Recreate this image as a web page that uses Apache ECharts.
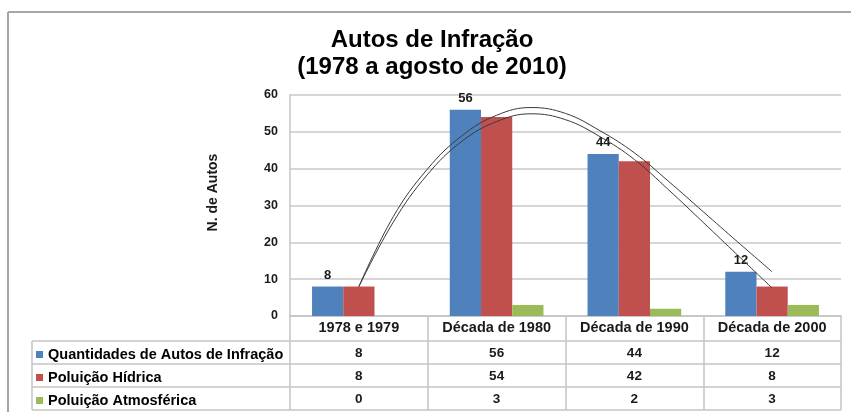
<!DOCTYPE html>
<html>
<head>
<meta charset="utf-8">
<script src="https://cdn.jsdelivr.net/npm/echarts@6/dist/echarts.min.js"></script>
<style>
html,body{margin:0;padding:0;background:#fff;}
#c{width:851px;height:412px;}
</style>
</head>
<body>
<div id="c"></div>
<script>
// ---- data ----
const categories = ['1978 e 1979', 'Década de 1980', 'Década de 1990', 'Década de 2000'];
const seriesNames = ['Quantidades de Autos de Infração', 'Poluição Hídrica', 'Poluição Atmosférica'];
const autos = [8, 56, 44, 12];
const hidrica = [8, 54, 42, 8];
const atmosferica = [0, 3, 2, 3];
// hand-drawn curves over the bars at category positions (0 = first category)
const curveX = [0, 0.25, 0.5, 0.75, 1, 1.25, 1.5, 1.75, 2, 2.25, 2.5, 2.75, 3];
const curveUpper = [8, 27, 40, 49, 54.5, 56.6, 55, 50.3, 44.3, 36.5, 28.3, 20.1, 12];
const curveLower = [8, 25.5, 38.5, 47.5, 52.8, 54.9, 53.3, 48.7, 42.5, 34.2, 25.4, 16.5, 7.6];
const yMin = 0, yMax = 60, yStep = 10;

// ---- layout / style ----
const FONT = 'Liberation Sans, Arial, sans-serif';
const W = 851, H = 412;
const G = { left: 290, right: 10, top: 95, bottom: 96 };
const ROW = 23;
const GRID_BOTTOM_Y = H - G.bottom;
const TABLE_LEFT = 32;
const TABLE_RIGHT = W - G.right;
const LINE_C = '#c4c4c4';
const TXT = '#1a1a1a';
const rows = [autos, hidrica, atmosferica];
const colors = ['#4F81BD', '#C0504D', '#9BBB59'];

const chart = echarts.init(document.getElementById('c'), null, { renderer: 'canvas' });

const xAxes = [{
  type: 'category',
  data: categories,
  position: 'bottom',
  axisLine: { show: true, onZero: false, lineStyle: { color: LINE_C, width: 1.5 } },
  axisTick: { show: true, interval: 0, length: ROW * 4 + 2, lineStyle: { color: LINE_C, width: 1.5 } },
  axisLabel: { interval: 0, margin: 4, fontFamily: FONT, fontWeight: 'bold', fontSize: 14.5, color: TXT }
}];
rows.forEach((r, k) => {
  xAxes.push({
    type: 'category',
    data: categories,
    position: 'bottom',
    offset: ROW * (k + 1) + 2,
    axisLine: { show: false, onZero: false },
    axisTick: { show: false },
    axisLabel: {
      interval: 0, margin: 5, fontFamily: FONT, fontWeight: 'bold', fontSize: 13.5, color: TXT,
      formatter: (v, i) => String(r[i])
    }
  });
});
// hidden value axis aligned with the category centres, for the drawn curves
xAxes.push({ type: 'value', min: -0.5, max: categories.length - 0.5, show: false, axisLine: { onZero: false } });
const curveAxisIndex = xAxes.length - 1;

const graphics = [
  // outer frame
  { type: 'line', shape: { x1: 8, y1: 12, x2: W, y2: 12 }, style: { stroke: '#a6a6a6', lineWidth: 2 } },
  { type: 'line', shape: { x1: 8, y1: 12, x2: 8, y2: H }, style: { stroke: '#a6a6a6', lineWidth: 2 } },
  // table left border
  { type: 'line', shape: { x1: TABLE_LEFT, y1: GRID_BOTTOM_Y + ROW + 2, x2: TABLE_LEFT, y2: GRID_BOTTOM_Y + ROW * 4 + 2 }, style: { stroke: LINE_C, lineWidth: 1.5 } }
];
for (let k = 1; k <= 4; k++) {
  const y = GRID_BOTTOM_Y + ROW * k + 2;
  graphics.push({ type: 'line', shape: { x1: TABLE_LEFT, y1: y, x2: TABLE_RIGHT, y2: y }, style: { stroke: LINE_C, lineWidth: 1.5 } });
}

const barLabel = { show: true, position: 'top', distance: 5, fontFamily: FONT, fontWeight: 'bold', fontSize: 13, color: TXT };
const pairs = (xs, ys) => xs.map((x, i) => [x, ys[i]]);

const option = {
  backgroundColor: '#fff',
  animation: false,
  title: {
    text: 'Autos de Infração\n(1978 a agosto de 2010)',
    left: 427, top: 22, textAlign: 'center',
    textStyle: { fontFamily: FONT, fontWeight: 'bold', fontSize: 24, lineHeight: 27, color: '#000' }
  },
  legend: {
    data: seriesNames,
    orient: 'vertical',
    left: TABLE_LEFT - 1, top: GRID_BOTTOM_Y + ROW + 3,
    height: 120,
    itemWidth: 7, itemHeight: 7, itemGap: 8, icon: 'rect',
    selectedMode: false,
    textStyle: { fontFamily: FONT, fontWeight: 'bold', fontSize: 14.5, color: '#000', lineHeight: 15 }
  },
  grid: { left: G.left, right: G.right, top: G.top, bottom: G.bottom, containLabel: false },
  xAxis: xAxes,
  yAxis: {
    type: 'value', min: yMin, max: yMax, interval: yStep,
    name: 'N. de Autos', nameLocation: 'middle', nameRotate: 90, nameGap: 70,
    nameTextStyle: { fontFamily: FONT, fontWeight: 'bold', fontSize: 14, color: TXT, padding: [0, 0, 0, 26] },
    axisLine: { show: true, onZero: false, lineStyle: { color: LINE_C, width: 1.5 } },
    axisTick: { show: false },
    axisLabel: { margin: 12, fontFamily: FONT, fontWeight: 'bold', fontSize: 12.5, color: TXT },
    splitLine: { show: true, lineStyle: { color: '#d6d6d6', width: 2 } }
  },
  series: [
    { name: seriesNames[0], type: 'bar', data: autos, itemStyle: { color: colors[0] }, barGap: '0%', barCategoryGap: '32%', label: barLabel },
    { name: seriesNames[1], type: 'bar', data: hidrica, itemStyle: { color: colors[1] } },
    { name: seriesNames[2], type: 'bar', data: atmosferica, itemStyle: { color: colors[2] } },
    { name: 'curva1', type: 'line', xAxisIndex: curveAxisIndex, data: pairs(curveX, curveUpper), smooth: 0.4, symbol: 'none', z: 5, lineStyle: { color: '#3a3a3a', width: 1 } },
    { name: 'curva2', type: 'line', xAxisIndex: curveAxisIndex, data: pairs(curveX, curveLower), smooth: 0.4, symbol: 'none', z: 5, lineStyle: { color: '#3a3a3a', width: 1 } }
  ],
  graphic: graphics
};
chart.setOption(option);
</script>
</body>
</html>
